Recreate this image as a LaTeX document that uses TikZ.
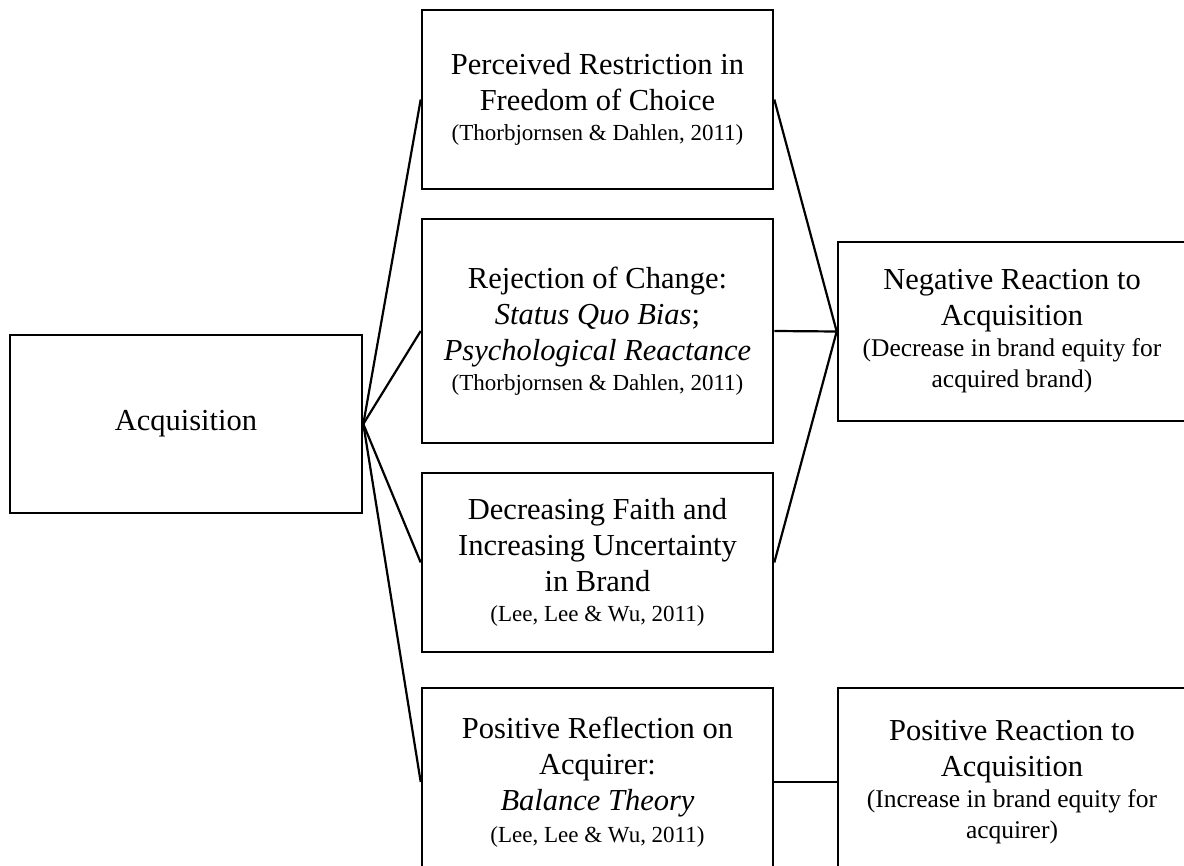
\documentclass[tikz,border=0pt]{standalone}
\usepackage{fontspec}
\setmainfont{Liberation Serif}
\newcommand{\mainsz}{\fontsize{30.5}{36}\selectfont}
\newcommand{\citesz}{\fontsize{23}{28}\selectfont}
\newcommand{\parsz}{\fontsize{25.5}{30}\selectfont}
\tikzset{
  box/.style={draw=black, line width=2.6pt, fill=white, inner sep=0pt, align=center, font=\mainsz},
  midbox/.style={box, minimum width=351pt},
  rightbox/.style={box, minimum width=348pt, minimum height=179pt},
  conn/.style={draw=black, line width=2.2pt}
}
\begin{document}
\begin{tikzpicture}[x=1pt, y=-1pt]
\clip (0,0) rectangle (1184,866);
\fill[white] (0,0) rectangle (1184,866);
% left
\node[box, minimum width=352pt, minimum height=178pt] (acq) at (186,424) {Acquisition};
% middle column
\node[midbox, minimum height=179pt] (per) at (597.5,99.5)
  {Perceived Restriction in\\ Freedom of Choice\\[-6pt] {\citesz (Thorbjornsen \& Dahlen, 2011)}};
\node[midbox, minimum height=224pt] (rej) at (597.5,331)
  {Rejection of Change:\\ \textit{Status Quo Bias};\\ \textit{Psychological Reactance}\\[-6pt] {\citesz (Thorbjornsen \& Dahlen, 2011)}};
\node[midbox, minimum height=179pt] (dec) at (597.5,562.5)
  {Decreasing Faith and\\ Increasing Uncertainty\\ in Brand\\[-6pt] {\citesz (Lee, Lee \& Wu, 2011)}};
\node[midbox, minimum height=188pt] (pos) at (597.5,782)
  {Positive Reflection on\\ Acquirer:\\ \textit{Balance Theory}\\[-4pt] {\citesz (Lee, Lee \& Wu, 2011)}};
% right column
\node[rightbox] (neg) at (1012,331.5)
  {Negative Reaction to\\ Acquisition\\[-5pt] {\parsz (Decrease in brand equity for}\\[-5pt] {\parsz acquired brand)}};
\node[rightbox, minimum height=188pt] (posr) at (1012,782)
  {Positive Reaction to\\ Acquisition\\[-5pt] {\parsz (Increase in brand equity for}\\[-5pt] {\parsz acquirer)}};
% connectors
\draw[conn] (acq.east) -- (per.west);
\draw[conn] (acq.east) -- (rej.west);
\draw[conn] (acq.east) -- (dec.west);
\draw[conn] (acq.east) -- (pos.west);
\draw[conn] (per.east) -- (neg.west);
\draw[conn] (rej.east) -- (neg.west);
\draw[conn] (dec.east) -- (neg.west);
\draw[conn] (pos.east) -- (posr.west);
\end{tikzpicture}
\end{document}
